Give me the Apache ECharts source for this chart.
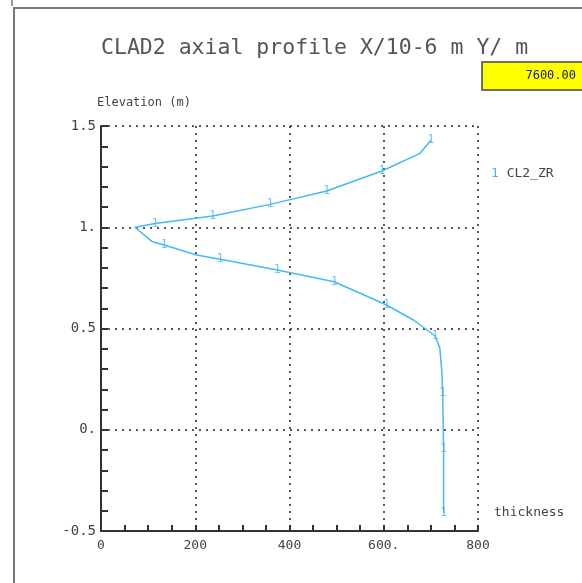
<!DOCTYPE html>
<html><head><meta charset="utf-8">
<script src="https://cdn.jsdelivr.net/npm/echarts@6/dist/echarts.min.js"></script>
<style>html,body{margin:0;padding:0;background:#fff}#c{width:582px;height:583px}</style>
</head><body><div id="c"></div>
<script>
// Profile points (thickness X/10-6 m, elevation m), top to bottom
const thickness = [700, 677, 596, 479, 359, 237, 115, 72, 108, 134, 203, 253, 374, 495, 606, 663, 709, 719, 723, 725, 727, 727];
const elevation = [1.43, 1.365, 1.278, 1.179, 1.113, 1.056, 1.019, 1.0, 0.93, 0.912, 0.863, 0.842, 0.789, 0.731, 0.616, 0.542, 0.463, 0.404, 0.295, 0.18, -0.094, -0.41];
// Indices of points that carry the curve marker "1"
const markerIdx = [0, 2, 3, 4, 5, 6, 9, 11, 12, 13, 14, 16, 19, 20, 21];
const xTickLabels = {0: '0', 200: '200', 400: '400', 600: '600.', 800: '800'};
const yTickLabels = {'-0.5': '-0.5', '0': '0.', '0.5': '0.5', '1': '1.', '1.5': '1.5'};
const seriesName = 'CL2_ZR';
const boxValue = '7600.00';

const lineData = thickness.map((x, i) => [x, elevation[i]]);
const markData = markerIdx.map(i => [thickness[i], elevation[i]]);
const blue = '#45b9f2';
const gray = '#444';
const mono = 'DejaVu Sans Mono';

const chart = echarts.init(document.getElementById('c'));
chart.setOption({
  animation: false,
  title: {
    text: 'CLAD2 axial profile X/10-6 m Y/ m',
    left: 96, top: 32,
    textStyle: {fontFamily: mono, fontSize: 21.5, fontWeight: 'normal', color: '#555'}
  },
  legend: {
    data: [{name: seriesName, icon: 'none'}],
    left: 481, top: 162, itemWidth: 0, itemGap: 0,
    formatter: n => '{a|1} ' + n,
    textStyle: {fontFamily: mono, fontSize: 13, color: gray, rich: {a: {color: blue, fontFamily: mono, fontSize: 13}}}
  },
  grid: {left: 101, right: 104, top: 126, bottom: 52},
  xAxis: {
    type: 'value', min: 0, max: 800, interval: 200,
    name: 'thickness', nameLocation: 'end', nameGap: 16,
    nameTextStyle: {fontFamily: mono, fontSize: 13, color: gray, verticalAlign: 'bottom', align: 'left', padding: [0, 0, 12, 0]},
    axisLine: {show: true, onZero: false, lineStyle: {color: '#333', width: 2}},
    axisTick: {show: true, inside: true, length: 6, lineStyle: {color: '#333', width: 2}},
    minorTick: {show: true, splitNumber: 4, length: 6, lineStyle: {color: '#333', width: 2}},
    axisLabel: {formatter: v => xTickLabels[v] ?? '', fontFamily: mono, fontSize: 13, color: gray, margin: 8},
    splitLine: {show: true, lineStyle: {type: [2, 5], color: '#222', width: 1.5}}
  },
  yAxis: {
    type: 'value', min: -0.5, max: 1.5, interval: 0.5,
    name: 'Elevation (m)', nameLocation: 'end', nameGap: 17,
    nameTextStyle: {fontFamily: mono, fontSize: 12, color: gray, align: 'left', padding: [0, 0, 0, -4]},
    axisLine: {show: true, onZero: false, lineStyle: {color: '#333', width: 2}},
    axisTick: {show: true, inside: true, length: 7, lineStyle: {color: '#333', width: 2}},
    minorTick: {show: true, splitNumber: 5, length: 7, lineStyle: {color: '#333', width: 2}},
    axisLabel: {formatter: v => yTickLabels[String(v)] ?? '', fontFamily: mono, fontSize: 14, color: gray, margin: 5},
    splitLine: {show: true, lineStyle: {type: [2, 5], color: '#222', width: 1.5}}
  },
  series: [
    {
      name: seriesName, type: 'line', data: lineData, smooth: false,
      showSymbol: false, symbol: 'none',
      lineStyle: {color: blue, width: 1.5}, itemStyle: {color: blue}
    },
    {
      name: seriesName, type: 'scatter', data: markData, symbolSize: 0,
      itemStyle: {color: blue},
      label: {show: true, position: 'inside', formatter: '1', color: blue, fontFamily: mono, fontSize: 12},
      silent: true
    }
  ],
  graphic: [
    {type: 'polyline', shape: {points: [[14, 583], [14, 8], [582, 8]]}, style: {stroke: '#777', lineWidth: 2, fill: null}},
    {type: 'line', shape: {x1: 12, y1: 0, x2: 12, y2: 6}, style: {stroke: '#333', lineWidth: 1}},
    {type: 'rect', shape: {x: 482, y: 62, width: 110, height: 28}, style: {fill: '#ffff00', stroke: '#444', lineWidth: 1.5}},
    {type: 'text', style: {text: boxValue, x: 576, y: 76, align: 'right', verticalAlign: 'middle', font: '12px "DejaVu Sans Mono"', fill: '#222'}}
  ]
});
</script></body></html>
